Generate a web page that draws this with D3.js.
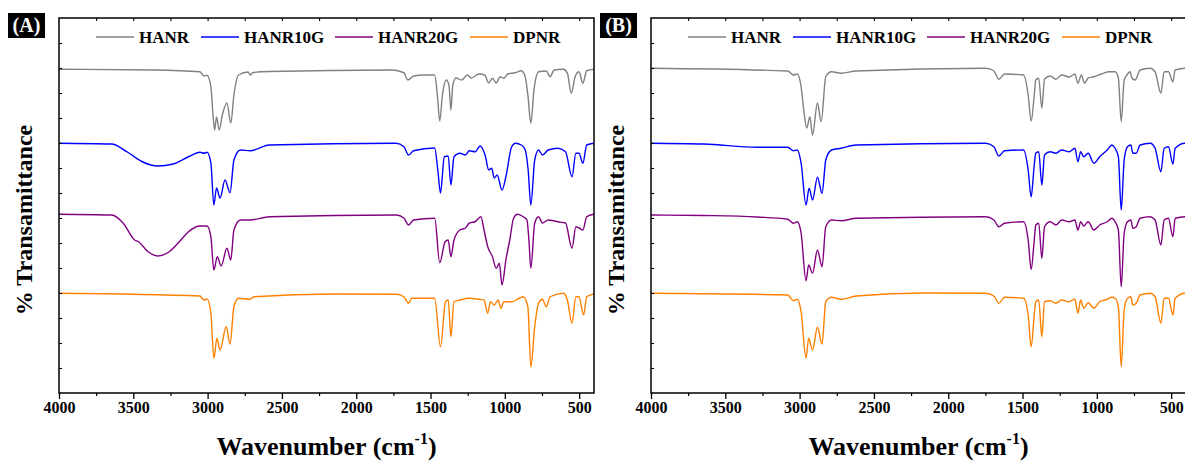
<!DOCTYPE html>
<html><head><meta charset="utf-8">
<script src="https://cdn.jsdelivr.net/npm/d3@7/dist/d3.min.js"></script>
<style>
body{margin:0;background:#fff}
svg{display:block}
text{font-family:"Liberation Serif","Times New Roman",serif;font-weight:bold;fill:#000}
</style>
</head><body>
<svg id="chart" width="1185" height="461"></svg>
<script>
// ---------------- data ----------------
const xMajorTicks = [4000, 3500, 3000, 2500, 2000, 1500, 1000, 500];
const seriesNames = ["HANR", "HANR10G", "HANR20G", "DPNR"];
const panelLabels = ["(A)", "(B)"];
const xTitle = "Wavenumber (cm";
const yTitle = "% Transamittance";

// [wavenumber (cm-1), stacked %T (arb. offset)]
const panelA_HANR = [[4000,129.5],[3362,129.2],[3051,128.5],[3025,126.8],[3004,127.1],[2978,122.5],[2966,113.2],[2953,105.2],[2940,110.4],[2922,105.2],[2901,111.2],[2870,116],[2844,108],[2823,119.2],[2792,127.2],[2727,128.4],[2714,127.2],[2694,128.2],[2585,128.6],[1757,129.2],[1679,128.1],[1653,125.2],[1614,126.8],[1549,127.2],[1472,127.2],[1454,119.2],[1438,108.8],[1420,119.2],[1394,125.2],[1376,123.2],[1363,113.2],[1350,123.2],[1329,126],[1291,125.2],[1252,127.2],[1226,126],[1174,127.6],[1135,127.2],[1109,124],[1083,125.9],[1058,124],[1032,126.5],[1006,125.9],[980,127.6],[928,128.1],[889,128.9],[863,126.5],[845,119.2],[825,108],[804,121.2],[773,128.5],[721,128.8],[695,126.5],[669,129.2],[605,129.5],[579,127.9],[553,119.9],[527,126.5],[501,128.5],[475,123.9],[449,128.9],[400,129.5]];
const panelA_HANR10G = [[4000,99.9],[3646,99.6],[3543,96.5],[3439,92.5],[3336,90.8],[3232,91.6],[3129,94.5],[3051,96.3],[3025,95.9],[3004,96.3],[2978,92],[2958,75.2],[2940,82],[2916,78],[2883,85.2],[2849,80.1],[2823,93.2],[2779,97.2],[2714,96.9],[2585,99.2],[1731,99.9],[1679,98.5],[1648,95.2],[1614,96.9],[1472,98],[1451,89.2],[1433,80],[1407,94.5],[1381,94.8],[1363,83.2],[1342,94.5],[1303,95.9],[1265,95.2],[1239,96.9],[1200,96.5],[1166,98.8],[1130,94.5],[1109,89.2],[1089,89.9],[1071,86],[1052,87.2],[1019,81.2],[993,86.5],[954,98.5],[928,99.9],[889,99.2],[863,97.2],[843,89.2],[825,75.2],[799,93.2],[773,97.2],[747,95.2],[708,97.2],[643,97.9],[592,96.5],[548,86.5],[522,95.9],[501,95.9],[475,91.9],[449,99.2],[400,99.9]];
const panelA_HANR20G = [[4000,71.5],[3646,71.2],[3569,68],[3491,61.2],[3465,60.5],[3400,56.5],[3336,54.8],[3258,56.5],[3180,61.2],[3129,64.5],[3051,66.8],[3004,66.8],[2978,62.5],[2958,49.2],[2935,54.5],[2909,50.8],[2870,57.9],[2844,53.2],[2823,65.2],[2779,69.2],[2714,69.2],[2585,70.5],[1731,71.2],[1679,70],[1648,67.2],[1614,69.2],[1472,69.9],[1438,52.1],[1402,60.5],[1381,61.2],[1363,54.5],[1342,61.2],[1303,65.2],[1265,66],[1239,68],[1200,68.5],[1161,70.5],[1140,65.2],[1115,58.5],[1083,54.5],[1058,49.9],[1037,51.9],[1019,43.2],[993,53.2],[967,61.2],[941,69.9],[915,71.5],[876,70.5],[851,69.2],[838,61.2],[825,49.9],[799,67.9],[773,70.5],[747,68],[708,69.2],[643,68.5],[592,68],[548,57.9],[522,66.5],[501,66],[475,65.2],[449,70.5],[400,71.5]];
const panelA_DPNR = [[4000,39.9],[3051,38.8],[3025,37.2],[3004,37.6],[2978,32],[2958,13.9],[2937,21.9],[2916,17.2],[2875,26.5],[2849,19.6],[2823,34.5],[2792,37.9],[2714,37.5],[2688,38.5],[2145,39.6],[1731,39.5],[1679,38.5],[1648,35.9],[1627,37.9],[1472,37.9],[1433,18.5],[1399,36.5],[1381,37.2],[1363,22.5],[1342,36.5],[1303,37.2],[1239,37.9],[1174,37.5],[1140,37.2],[1115,31.9],[1097,36.5],[1071,35.2],[1045,37.2],[1027,33.9],[1006,36.5],[954,36.5],[902,37.9],[876,38.5],[845,34.5],[825,10.4],[799,26.5],[773,35.9],[747,37.5],[721,34.5],[695,38.5],[605,39.9],[579,37.2],[548,27.9],[522,38.5],[501,38.5],[470,31.2],[449,38.5],[400,39.6]];

const panelB_HANR = [[4000,129.9],[3080,128.8],[3041,127.2],[3016,127.6],[2990,122.5],[2972,113.2],[2952,106],[2931,110.5],[2913,103.2],[2880,116],[2855,108.5],[2824,126.5],[2785,128.5],[2721,127.9],[2619,128.8],[1749,129.9],[1693,128.9],[1659,125.5],[1621,127.6],[1493,127.2],[1462,119.2],[1442,108.8],[1421,119.2],[1411,125.2],[1391,125.9],[1370,113.9],[1352,125.5],[1314,126.8],[1275,125.5],[1237,127.2],[1186,126.4],[1148,127.6],[1127,123.9],[1104,127.2],[1083,123.9],[1058,126],[1020,126.5],[968,127.6],[917,128.5],[877,128.5],[855,126],[836,108.5],[816,125.2],[798,127.2],[776,128.5],[764,126],[742,125.2],[709,129.2],[641,129.9],[608,128.5],[569,119.9],[547,128.5],[518,128.5],[488,124.5],[473,129.2],[405,129.9],[400,129.9]];
const panelB_HANR10G = [[4000,99.9],[3643,99.6],[3285,98.3],[3080,98.3],[3041,96.9],[3016,97.2],[2990,92],[2957,75.2],[2936,81.9],[2913,77.2],[2880,86.3],[2849,79.9],[2824,93.2],[2785,97.2],[2721,97.9],[2619,99.2],[1749,99.9],[1693,98.5],[1659,94.8],[1621,96.9],[1493,97.2],[1462,89.2],[1442,78.5],[1421,91.2],[1411,95.9],[1391,96.5],[1370,83.2],[1352,95.2],[1314,96.5],[1275,95.9],[1237,97.2],[1186,96.5],[1148,97.9],[1127,92.5],[1109,96.5],[1088,94.5],[1058,95.9],[1020,91.9],[981,94.5],[930,97.2],[899,99.2],[877,97.9],[855,94.5],[836,73.2],[816,93.2],[794,98.5],[771,99.2],[758,95.9],[735,95.9],[709,99.2],[641,99.9],[608,97.9],[569,88.5],[547,97.9],[518,98.5],[488,91.6],[473,97.9],[405,99.9],[400,99.9]];
const panelB_HANR20G = [[4000,71.2],[3643,71],[3285,70.4],[3080,69.5],[3041,67.9],[3016,68.5],[2990,64],[2957,44.9],[2939,51.2],[2913,47.9],[2880,57.2],[2849,50.5],[2824,66.5],[2785,69.2],[2721,68.9],[2619,69.9],[1749,70.5],[1693,69.2],[1659,66.5],[1621,67.9],[1493,68.5],[1462,61.2],[1442,49.5],[1421,61.2],[1411,67.2],[1391,67.9],[1370,53.9],[1352,66.5],[1314,68.5],[1275,67.2],[1237,69.2],[1186,68.5],[1148,69.2],[1127,65.2],[1109,68.5],[1088,66.8],[1058,68.5],[1020,65.2],[981,67.2],[930,68.5],[899,69.9],[877,68.5],[855,65.2],[836,42.5],[816,63.9],[794,68.5],[771,69.2],[758,65.9],[735,66.5],[709,69.9],[641,70.5],[608,69.2],[569,59.2],[547,69.2],[518,69.9],[488,62.5],[473,69.9],[405,70.5],[400,70.5]];
const panelB_DPNR = [[4000,39.9],[3080,39.2],[3041,36.9],[3016,37.5],[2990,32.5],[2957,13.9],[2939,21.9],[2913,17.2],[2880,26.3],[2849,19.6],[2824,36.5],[2785,38.3],[2721,37.5],[2619,38.8],[2158,40],[1749,39.9],[1693,38.8],[1659,35.9],[1621,38.3],[1493,37.9],[1462,31.2],[1442,18.5],[1421,31.2],[1411,36.5],[1391,37.2],[1370,22.5],[1352,36.5],[1314,36.9],[1275,35.9],[1237,37.2],[1186,36.5],[1148,37.5],[1127,31.9],[1109,37.2],[1088,33.9],[1058,36.1],[1020,33.9],[981,36.5],[930,37.5],[899,38.3],[877,37.9],[855,34.5],[836,10.5],[816,33.2],[794,37.9],[771,38.5],[758,35.2],[735,35.9],[709,39.2],[641,39.9],[608,38.5],[569,27.9],[547,37.9],[518,37.9],[488,31.2],[473,37.9],[405,39.9],[400,39.9]];

const panelASeries = [panelA_HANR, panelA_HANR10G, panelA_HANR20G, panelA_DPNR];
const panelBSeries = [panelB_HANR, panelB_HANR10G, panelB_HANR20G, panelB_DPNR];

// ---------------- styles / layout ----------------
const colors = ["#808080", "#0000ff", "#800080", "#ff8000"];
const plotTop = 18, plotBottom = 393, plotW = 535;
const legendOffsets = [37, 142, 276, 411];

const svg = d3.select("#chart");

const panels = [
  {label: panelLabels[0], left: 59, series: panelASeries, labelX: 8},
  {label: panelLabels[1], left: 651, series: panelBSeries, labelX: 600}
];

panels.forEach((p, pi) => {
  const x = d3.scaleLinear().domain([4000, 400]).range([p.left, p.left + plotW]);
  const y = d3.scaleLinear().domain([0, 150]).range([plotBottom, plotTop]);
  const g = svg.append("g");

  const clipId = "clip" + pi;
  svg.append("clipPath").attr("id", clipId).append("rect")
    .attr("x", p.left).attr("y", plotTop).attr("width", plotW).attr("height", plotBottom - plotTop);

  // spectra
  const line = d3.line().x(d => x(d[0])).y(d => y(d[1])).curve(d3.curveMonotoneX);
  g.append("g").attr("clip-path", `url(#${clipId})`)
    .selectAll("path").data(p.series).join("path")
    .attr("d", line).attr("fill", "none")
    .attr("stroke", (d, i) => colors[i]).attr("stroke-width", 1.4)
    .attr("stroke-linejoin", "round");

  // bottom axis major
  const minor = d3.range(3750, 400, -500);
  const xAxis = d3.axisBottom(x).tickValues(xMajorTicks).tickSize(6).tickSizeOuter(0).tickPadding(3).tickFormat(d3.format("d"));
  const ax = g.append("g").attr("transform", `translate(0,${plotBottom})`).call(xAxis);
  ax.select(".domain").remove();
  ax.selectAll("line").attr("stroke", "#000").attr("stroke-width", 1.3);
  ax.selectAll("text").attr("font-size", 16).attr("font-family", "Liberation Serif").attr("font-weight", "bold").attr("fill", "#000");
  const axm = g.append("g").attr("transform", `translate(0,${plotBottom})`)
    .call(d3.axisBottom(x).tickValues(minor).tickSize(3).tickSizeOuter(0).tickFormat(""));
  axm.select(".domain").remove();
  axm.selectAll("line").attr("stroke", "#000").attr("stroke-width", 1.2);

  // top axis ticks inward
  const axt = g.append("g").attr("transform", `translate(0,${plotTop})`)
    .call(d3.axisTop(x).tickValues(minor.concat(xMajorTicks.slice(1))).tickSize(-3).tickSizeOuter(0).tickFormat(""));
  axt.select(".domain").remove();
  axt.selectAll("line").attr("stroke", "#000").attr("stroke-width", 1.1);

  // left axis ticks inward
  const ayl = g.append("g").attr("transform", `translate(${p.left},0)`)
    .call(d3.axisLeft(y).tickValues(d3.range(10, 150, 10)).tickSize(-3).tickSizeOuter(0).tickFormat(""));
  ayl.select(".domain").remove();
  ayl.selectAll("line").attr("stroke", "#000").attr("stroke-width", 1.1);

  // frame
  g.append("rect").attr("x", p.left).attr("y", plotTop).attr("width", plotW).attr("height", plotBottom - plotTop)
    .attr("fill", "none").attr("stroke", "#000").attr("stroke-width", 1.5);

  // legend
  const lg = g.append("g");
  seriesNames.forEach((name, i) => {
    const lx = p.left + legendOffsets[i];
    lg.append("line").attr("x1", lx).attr("x2", lx + 38).attr("y1", 37).attr("y2", 37)
      .attr("stroke", colors[i]).attr("stroke-width", 1.6);
    lg.append("text").attr("x", lx + 43).attr("y", 43).attr("font-size", 17).text(name);
  });

  // panel label
  svg.append("rect").attr("x", p.labelX).attr("y", 13).attr("width", 37).attr("height", 25).attr("fill", "#000");
  svg.append("text").attr("x", p.labelX + 18.5).attr("y", 32).attr("text-anchor", "middle")
    .attr("font-size", 20).style("fill", "#fff").text(p.label);

  // x title
  const xt = svg.append("text").attr("x", p.left + plotW / 2).attr("y", 455).attr("text-anchor", "middle").attr("font-size", 26);
  xt.append("tspan").text(xTitle);
  xt.append("tspan").attr("font-size", 16).attr("dy", -11).text("-1");
  xt.append("tspan").attr("dy", 11).text(")");

  // y title
  svg.append("text").attr("transform", `translate(${p.left - 35},220) rotate(-90)`)
    .attr("text-anchor", "middle").attr("dominant-baseline", "central").attr("font-size", 24).text(yTitle);
});
</script>
</body></html>
